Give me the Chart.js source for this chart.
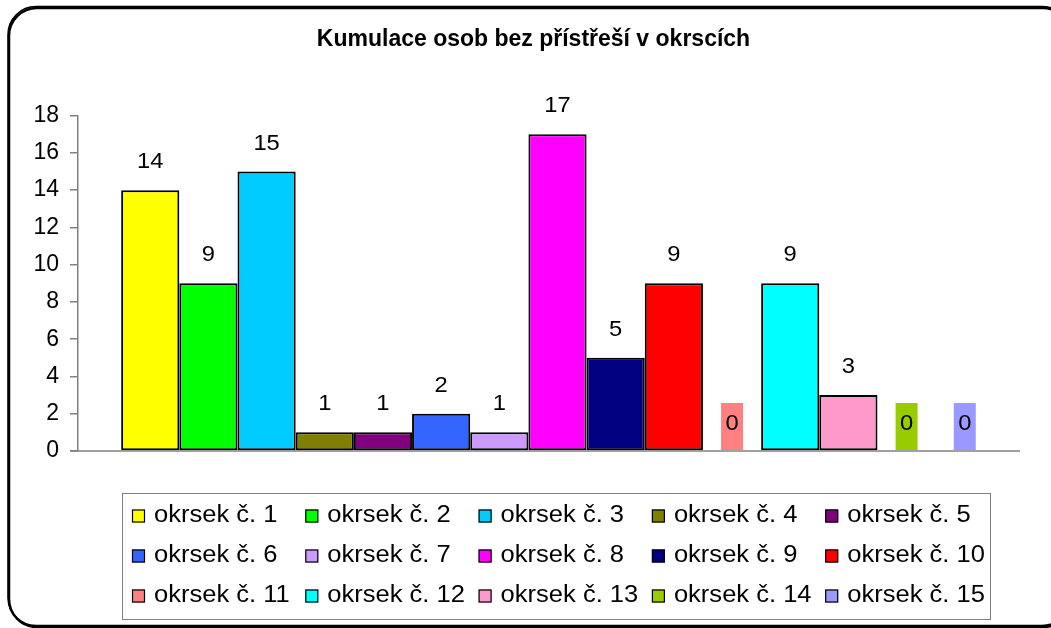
<!DOCTYPE html>
<html>
<head>
<meta charset="utf-8">
<title>Kumulace osob bez přístřeší v okrscích</title>
<script src="https://cdn.jsdelivr.net/npm/chart.js@4/dist/chart.umd.min.js"></script>
<style>
    body { margin: 0; background: #fff; }
    #wrap { width: 1051px; height: 628px; position: relative; }
</style>
</head>
<body>
<div id="wrap"><canvas id="okrskyChart"></canvas></div>
<script>
var chartTitle = 'Kumulace osob bez přístřeší v okrscích';

var districts = [
    'okrsek č. 1', 'okrsek č. 2', 'okrsek č. 3', 'okrsek č. 4', 'okrsek č. 5',
    'okrsek č. 6', 'okrsek č. 7', 'okrsek č. 8', 'okrsek č. 9', 'okrsek č. 10',
    'okrsek č. 11', 'okrsek č. 12', 'okrsek č. 13', 'okrsek č. 14', 'okrsek č. 15'
];
var counts = [14, 9, 15, 1, 1, 2, 1, 17, 5, 9, 0, 9, 3, 0, 0];
var colors = [
    '#FFFF00', '#00FF00', '#00CCFF', '#808000', '#800080',
    '#3366FF', '#CC99FF', '#FF00FF', '#000080', '#FF0000',
    '#FF8080', '#00FFFF', '#FF99CC', '#99CC00', '#9999FF'
];
var yTicks = [0, 2, 4, 6, 8, 10, 12, 14, 16, 18];

var FONT = '"Liberation Sans", Arial, sans-serif';

var datasets = [];
for (let i = 0; i < districts.length; i++) {
    datasets.push({
        label: districts[i],
        data: [counts[i]],
        backgroundColor: colors[i],
        borderColor: '#000000',
        borderWidth: counts[i] > 0 ? 2 : 0,
        borderSkipped: false
    });
}

// text a bit wider than the font gives, like the old Excel export
function wideText(ctx, text, x, y, sx) {
    ctx.save();
    ctx.translate(x, y);
    ctx.scale(sx, 1);
    ctx.fillText(text, 0, 0);
    ctx.restore();
}

// value labels above bars, zero values get a filled box like in Excel
var valueLabels = {
    id: 'valueLabels',
    afterDatasetsDraw: function (chart) {
        var ctx = chart.ctx;
        var yScale = chart.scales.y;
        var base = yScale.getPixelForValue(0);
        ctx.save();

        // x axis base line (only as far as the original one goes)
        ctx.strokeStyle = '#808080';
        ctx.lineWidth = 1.5;
        ctx.beginPath();
        ctx.moveTo(chart.chartArea.left - 8, base);
        ctx.lineTo(chart.chartArea.right - 17, base);
        ctx.stroke();

        ctx.font = '22px ' + FONT;
        ctx.textAlign = 'center';
        ctx.textBaseline = 'middle';
        chart.data.datasets.forEach(function (ds, i) {
            var bar = chart.getDatasetMeta(i).data[0];
            var v = ds.data[0];
            if (v > 0) {
                ctx.fillStyle = '#000';
                wideText(ctx, String(v), bar.x, bar.y - 28, 1.08);
            } else {
                ctx.fillStyle = ds.backgroundColor;
                ctx.fillRect(bar.x - 11, bar.base - 48, 22, 47);
                ctx.fillStyle = '#000';
                wideText(ctx, String(v), bar.x, bar.base - 27, 1.08);
            }
        });
        ctx.restore();
    }
};

// legend box in 5 columns and the rounded frame around the whole chart
var gridLegend = {
    id: 'gridLegend',
    afterDraw: function (chart) {
        var ctx = chart.ctx;
        ctx.save();
        ctx.strokeStyle = '#808080';
        ctx.lineWidth = 1;
        ctx.strokeRect(122.5, 493.5, 868, 126);

        ctx.font = '23px ' + FONT;
        ctx.textAlign = 'left';
        ctx.textBaseline = 'middle';
        chart.data.datasets.forEach(function (ds, i) {
            var col = i % 5;
            var row = Math.floor(i / 5);
            var x = 132 + col * 173.3;
            var y = 516 + row * 40;
            ctx.fillStyle = ds.backgroundColor;
            ctx.fillRect(x, y - 6.5, 13, 13);
            ctx.strokeStyle = '#000';
            ctx.lineWidth = 1.2;
            ctx.strokeRect(x + 0.5, y - 6, 12, 12);
            ctx.fillStyle = '#000';
            wideText(ctx, ds.label, x + 22, y, 1.11);
        });

        ctx.strokeStyle = '#000';
        ctx.lineWidth = 2.5;
        ctx.beginPath();
        ctx.roundRect(9, 8, 1062, 619, 28);
        ctx.stroke();
        ctx.lineWidth = 1.5;
        ctx.beginPath();
        ctx.roundRect(8, 6.5, 1062, 619, 28);
        ctx.stroke();
        ctx.restore();
    }
};

var ctx = document.getElementById('okrskyChart');
var okrskyChart = new Chart(ctx, {
    type: 'bar',
    data: {
        labels: [''],
        datasets: datasets
    },
    options: {
        responsive: true,
        maintainAspectRatio: false,
        animation: false,
        layout: {
            padding: { left: 30, right: 14, top: 0, bottom: 177 }
        },
        datasets: {
            bar: {
                barPercentage: 1,
                categoryPercentage: 0.91
            }
        },
        scales: {
            x: {
                ticks: { display: false },
                grid: { display: false },
                border: { display: false },
                afterFit: function (scale) { scale.height = 0; }
            },
            y: {
                min: 0,
                max: 18,
                afterFit: function (scale) { scale.width = 48; },
                afterBuildTicks: function (scale) {
                    scale.ticks = yTicks.map(function (v) { return { value: v }; });
                },
                ticks: {
                    color: '#000',
                    padding: 11,
                    font: { family: FONT, size: 23 }
                },
                grid: {
                    drawOnChartArea: false,
                    drawTicks: true,
                    tickLength: 8,
                    color: '#808080',
                    lineWidth: 1.5
                },
                border: { color: '#808080', width: 1.5 }
            }
        },
        plugins: {
            legend: { display: false },
            tooltip: { enabled: false },
            title: {
                display: true,
                text: chartTitle,
                color: '#000',
                font: { family: FONT, size: 23, weight: 'bold' },
                padding: { top: 26, bottom: 62 }
            }
        }
    },
    plugins: [valueLabels, gridLegend]
});
</script>
</body>
</html>
